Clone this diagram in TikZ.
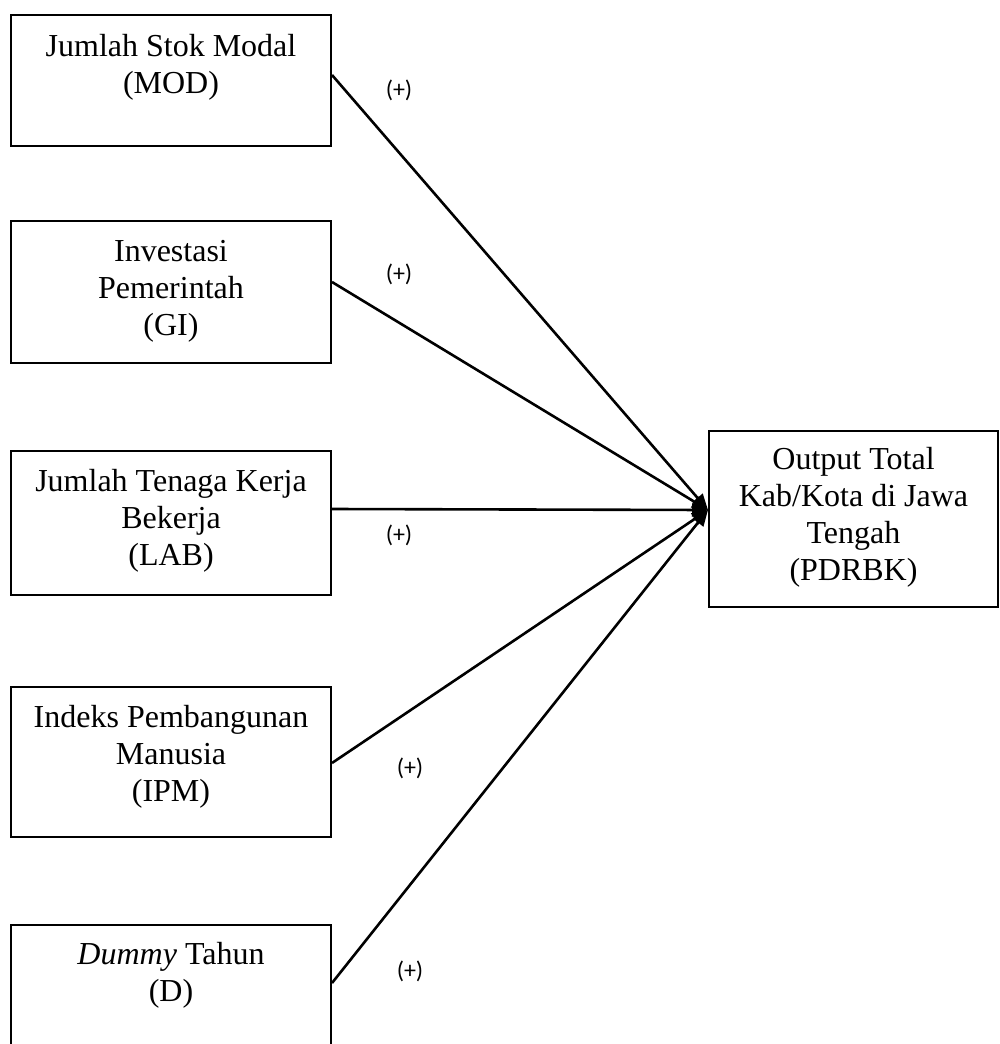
\documentclass[tikz,border=0pt]{standalone}
\usepackage{fontspec}
\setmainfont{Liberation Serif}
\newfontfamily\lblfont{Carlito}
\usetikzlibrary{arrows.meta}
\begin{document}
\begin{tikzpicture}[x=1pt,y=-1pt,
  box/.style={draw,line width=2pt,inner sep=0pt,minimum width=320pt},
  txt/.style={font=\fontsize{32}{37}\selectfont,align=center,inner sep=0pt},
  sign/.style={font=\lblfont\fontsize{24}{26}\selectfont,inner sep=0pt},
  arr/.style={line width=2.6pt,-{Triangle[length=16pt,width=13pt]}}]
\clip (0,0) rectangle (1000,1044);
\fill[white] (0,0) rectangle (1000,1044);
% boxes
\node[box,minimum height=131pt] (b1) at (171,80.5) {};
\node[box,minimum height=142pt] (b2) at (171,292) {};
\node[box,minimum height=144pt] (b3) at (171,523) {};
\node[box,minimum height=150pt] (b4) at (171,762) {};
\node[box,minimum height=150pt] (b5) at (171,1000) {};
\node[box,minimum width=289pt,minimum height=176pt] (out) at (853.5,519) {};
% texts
\node[txt] (t1) at (171,67) {Jumlah Stok Modal\\(MOD)};
\node[txt] (t2) at (171,291) {Investasi\\Pemerintah\\(GI)};
\node[txt] (t3) at (171,521) {Jumlah Tenaga Kerja\\Bekerja\\(LAB)};
\node[txt] (t4) at (171,757) {Indeks Pembangunan\\Manusia\\(IPM)};
\node[txt] (t5) at (171,975) {\textit{Dummy} Tahun\\(D)};
\node[txt] (t6) at (853.5,517.5) {Output Total\\Kab/Kota di Jawa\\Tengah\\(PDRBK)};
% converging point
\coordinate (tip) at (708,510);
% arrows
\draw[arr] (b1.east |- 0,75) -- (tip);
\draw[arr] (b2.east |- 0,282) -- (tip);
\draw[arr] (b3.east |- 0,509) -- (tip);
\draw[arr] (b4.east |- 0,763) -- (tip);
\draw[arr] (b5.east |- 0,983) -- (tip);
% signs
\node[sign] (s1) at (399,90) {(+)};
\node[sign] (s2) at (399,274) {(+)};
\node[sign] (s3) at (399,535) {(+)};
\node[sign] (s4) at (410,768) {(+)};
\node[sign] (s5) at (410,971) {(+)};
\end{tikzpicture}
\end{document}
